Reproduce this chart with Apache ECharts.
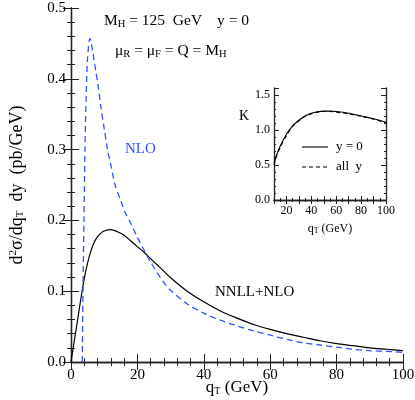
<!DOCTYPE html>
<html><head><meta charset="utf-8">
<script src="https://cdn.jsdelivr.net/npm/echarts@6/dist/echarts.min.js"></script>
<style>html,body{margin:0;padding:0;background:#fff}#c{width:415px;height:400px}</style>
</head><body><div id="c"></div>
<script>
// Main panel: d^2 sigma / dqT dy (pb/GeV)
const qtResum = [0,1,2,3,4,5,6,7,8,9,10,12,14,16,18,20,22,24,26,28,30,35,40,45,50,55,60,65,70,75,80,85,90,95,100];
const nnllNlo = [0,0.030,0.060,0.090,0.118,0.140,0.157,0.169,0.177,0.182,0.185,0.187,0.184,0.179,0.171,0.163,0.155,0.146,0.137,0.128,0.119,0.100,0.085,0.072,0.062,0.053,0.046,0.040,0.035,0.030,0.026,0.023,0.020,0.018,0.016];
const qtNlo = [3.4,3.6,3.9,4.2,4.6,5.0,5.7,6.5,7.5,8.2,9,10,11,12,13.3,15,16.3,18,20,22,24,26,28,30,35,40,45,50,55,60,65,70,75,80,85,90,95,100];
const nlo = [0,0.10,0.20,0.30,0.38,0.43,0.457,0.44,0.41,0.389,0.36,0.33,0.30,0.278,0.250,0.228,0.211,0.196,0.176,0.158,0.141,0.126,0.112,0.101,0.082,0.069,0.059,0.051,0.044,0.038,0.032,0.027,0.024,0.021,0.018,0.016,0.015,0.0137];
const mainXTicks = [0,20,40,60,80,100];
const mainYTicks = [0.0,0.1,0.2,0.3,0.4,0.5];
// Inset: K factor
const qtK = [10,12,15,20,25,30,35,40,45,50,55,60,70,80,90,100];
const kY0 = [0.52,0.64,0.77,0.94,1.06,1.14,1.20,1.24,1.26,1.27,1.27,1.265,1.24,1.20,1.16,1.11];
const kAllY = [0.50,0.62,0.75,0.92,1.05,1.13,1.195,1.23,1.255,1.265,1.265,1.255,1.23,1.195,1.155,1.10];
const insetXTicks = [20,40,60,80,100];
const insetYTicks = [0.0,0.5,1.0,1.5];

const BLUE = '#2f52ff';
const SERIF = 'Liberation Serif';
const zip = (xs, ys) => xs.map((x, i) => [x, ys[i]]);

const chart = echarts.init(document.getElementById('c'), null, {renderer: 'canvas'});
const frame = {show: true, lineStyle: {color: '#222', width: 1.3}};
const tick = (len) => ({show: true, inside: true, length: len, lineStyle: {color: '#222', width: 1}});
const minor = (n, len) => ({show: true, splitNumber: n, length: len, lineStyle: {color: '#222', width: 1}});
const lab = (size, margin, fmt) => ({show: true, fontFamily: SERIF, fontSize: size, color: '#000', margin: margin, formatter: fmt});
const nolab = {show: false};
const richMain = {n: {fontFamily: SERIF, fontSize: 15.5, fill: '#000'}, s: {fontFamily: SERIF, fontSize: 10.5, fill: '#000', verticalAlign: 'bottom', padding: [6,0,0,0]}};

chart.setOption({
  animation: false,
  backgroundColor: '#fff',
  grid: [
    {left: 71, top: 8, width: 332, height: 354, containLabel: false, outerBoundsMode: 'none'},
    {left: 274, top: 88, width: 112, height: 112, containLabel: false, outerBoundsMode: 'none'}
  ],
  xAxis: [
    {type: 'value', gridIndex: 0, min: 0, max: 100, interval: 20, position: 'bottom',
     axisLine: frame, axisTick: tick(8), minorTick: minor(5, 4), splitLine: {show: false},
     axisLabel: lab(15, 6, v => mainXTicks.includes(v) ? String(v) : ''),
     name: '{n|q}{s|T}{n| (GeV)}', nameLocation: 'middle', nameGap: 17, nameMoveOverlap: false,
     nameTextStyle: {rich: {n: {fontFamily: SERIF, fontSize: 17, color: '#000'}, s: {fontFamily: SERIF, fontSize: 10, color: '#000', verticalAlign: 'bottom', padding: [6,0,0,0]}}}},
    {type: 'value', gridIndex: 0, min: 0, max: 100, interval: 20, position: 'top',
     axisLine: frame, axisTick: tick(8), minorTick: minor(5, 4), splitLine: {show: false}, axisLabel: nolab},
    {type: 'value', gridIndex: 1, min: 10, max: 100, interval: 10, position: 'bottom',
     axisLine: frame, axisTick: tick(4), minorTick: minor(2, 2), splitLine: {show: false},
     axisLabel: lab(12, 5, v => insetXTicks.includes(v) ? String(v) : ''),
     name: '{n|q}{s|T}{n| (GeV)}', nameLocation: 'middle', nameGap: 22, nameMoveOverlap: false,
     nameTextStyle: {rich: {n: {fontFamily: SERIF, fontSize: 12, color: '#000'}, s: {fontFamily: SERIF, fontSize: 8, color: '#000', verticalAlign: 'bottom', padding: [5,0,0,0]}}}},
    {type: 'value', gridIndex: 1, min: 10, max: 100, interval: 10, position: 'top',
     axisLine: frame, axisTick: tick(4), minorTick: minor(2, 2), splitLine: {show: false}, axisLabel: nolab}
  ],
  yAxis: [
    {type: 'value', gridIndex: 0, min: 0, max: 0.5, interval: 0.1, position: 'left',
     axisLine: frame, axisTick: tick(8), minorTick: minor(5, 4), splitLine: {show: false},
     axisLabel: lab(15, 5, v => v.toFixed(1)),
     name: '{n|d}{p|2}{n|σ/dq}{s|T}{n|  dy  (pb/GeV)}', nameLocation: 'middle', nameGap: 45, nameRotate: 90, nameMoveOverlap: false,
     nameTextStyle: {rich: {n: {fontFamily: SERIF, fontSize: 18, color: '#000'}, p: {fontFamily: SERIF, fontSize: 11, color: '#000', verticalAlign: 'top', padding: [0,0,7,0]}, s: {fontFamily: SERIF, fontSize: 11, color: '#000', verticalAlign: 'bottom', padding: [6,0,0,0]}}}},
    {type: 'value', gridIndex: 0, min: 0, max: 0.5, interval: 0.1, position: 'right',
     axisLine: frame, axisTick: tick(8), minorTick: minor(5, 4), splitLine: {show: false}, axisLabel: nolab},
    {type: 'value', gridIndex: 1, min: 0, max: 1.6, interval: 0.5, position: 'left',
     axisLine: frame, axisTick: tick(5), minorTick: minor(5, 2), splitLine: {show: false},
     axisLabel: lab(12, 4, v => insetYTicks.includes(v) ? v.toFixed(1) : '')},
    {type: 'value', gridIndex: 1, min: 0, max: 1.6, interval: 0.5, position: 'right',
     axisLine: frame, axisTick: tick(5), minorTick: minor(5, 2), splitLine: {show: false}, axisLabel: nolab}
  ],
  series: [
    {name: 'NNLL+NLO', type: 'line', xAxisIndex: 0, yAxisIndex: 0, data: zip(qtResum, nnllNlo),
     smooth: 0.3, showSymbol: false, symbol: 'none', lineStyle: {color: '#000', width: 1.2}},
    {name: 'NLO', type: 'line', xAxisIndex: 0, yAxisIndex: 0, data: zip(qtNlo, nlo),
     smooth: 0.3, showSymbol: false, symbol: 'none', lineStyle: {color: BLUE, width: 1.3, type: [6, 4]}},
    {name: 'y=0', type: 'line', xAxisIndex: 2, yAxisIndex: 2, data: zip(qtK, kY0),
     smooth: 0.3, showSymbol: false, symbol: 'none', lineStyle: {color: '#000', width: 1.1}},
    {name: 'all y', type: 'line', xAxisIndex: 2, yAxisIndex: 2, data: zip(qtK, kAllY),
     smooth: 0.3, showSymbol: false, symbol: 'none', lineStyle: {color: '#000', width: 1.1, type: [4, 3]}}
  ],
  graphic: [
    {type: 'text', left: 104, top: 13, style: {rich: richMain, text: '{n|M}{s|H}{n| = 125  GeV}'}},
    {type: 'text', left: 217, top: 13, style: {text: 'y = 0', font: '15.5px "Liberation Serif"', fill: '#000'}},
    {type: 'text', left: 115, top: 43, style: {rich: richMain, text: '{n|μ}{s|R}{n| = μ}{s|F}{n| = Q = M}{s|H}'}},
    {type: 'text', left: 125, top: 142, style: {text: 'NLO', font: '15px "Liberation Serif"', fill: BLUE}},
    {type: 'text', left: 215, top: 285, style: {text: 'NNLL+NLO', font: '15px "Liberation Serif"', fill: '#000'}},
    {type: 'text', left: 239, top: 109, style: {text: 'K', font: '14px "Liberation Serif"', fill: '#000'}},
    {type: 'line', shape: {x1: 302, y1: 147, x2: 328, y2: 147}, style: {stroke: '#000', lineWidth: 1.1}},
    {type: 'line', shape: {x1: 302, y1: 167, x2: 328, y2: 167}, style: {stroke: '#000', lineWidth: 1.1, lineDash: [4, 3]}},
    {type: 'text', left: 336, top: 140, style: {text: 'y = 0', font: '13px "Liberation Serif"', fill: '#000'}},
    {type: 'text', left: 336, top: 160, style: {text: 'all  y', font: '13px "Liberation Serif"', fill: '#000'}}
  ]
});
</script></body></html>
